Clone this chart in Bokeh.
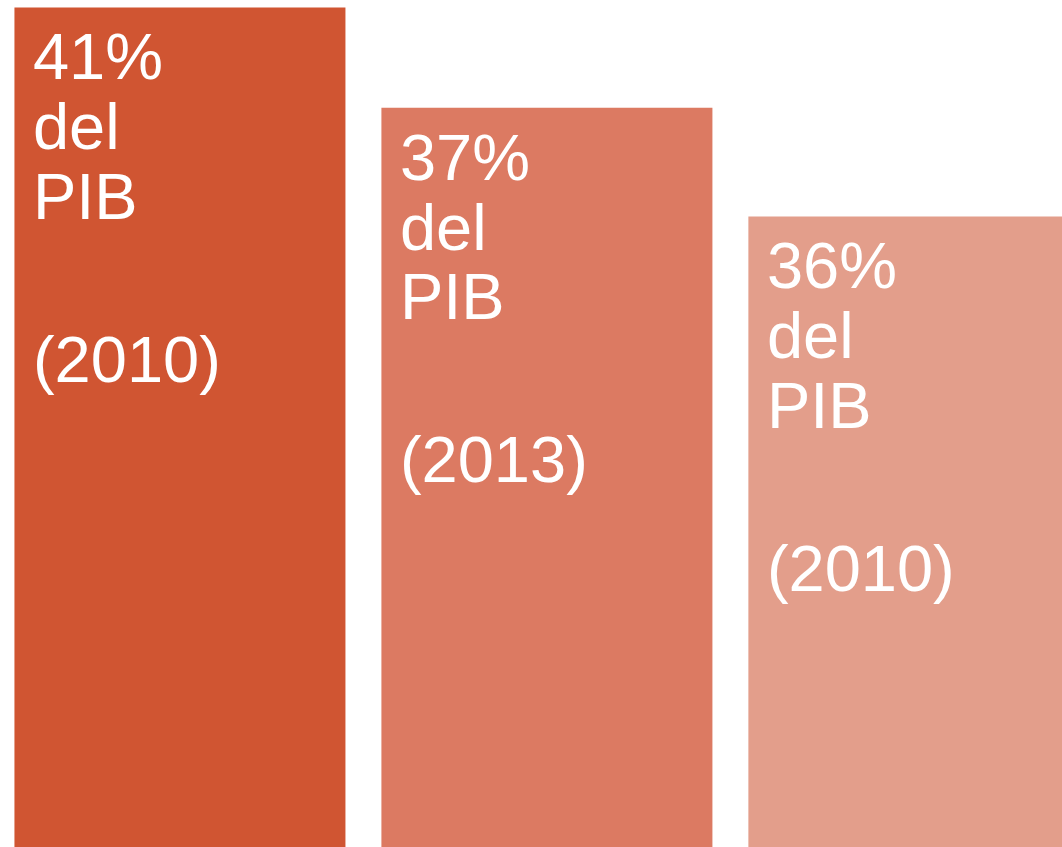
from bokeh.plotting import figure
from bokeh.models import Range1d, ColumnDataSource
from bokeh.core.properties import value
from bokeh.embed import file_html
from bokeh.resources import INLINE

# Data
categories = ["A", "B", "C"]
bar_heights = [41.0, 36.1, 30.8]          # drawn bar heights (same scale)
pct_labels = ["41%\ndel\nPIB", "37%\ndel\nPIB", "36%\ndel\nPIB"]
year_labels = ["(2010)", "(2013)", "(2010)"]
colors = ["#D05532", "#DC7A62", "#E39E8B"]

idx = list(range(len(categories)))
src = ColumnDataSource(dict(x=idx, top=bar_heights, pct=pct_labels,
                            year=year_labels, color=colors))

p = figure(width=1062, height=847, output_backend="svg", toolbar_location=None,
           x_range=Range1d(-0.489, 2.405), y_range=Range1d(0, 41.34),
           min_border=0, min_border_left=0, min_border_right=0,
           min_border_top=0, min_border_bottom=0)
p.axis.visible = False
p.grid.visible = False
p.outline_line_color = None
p.background_fill_color = "white"
p.border_fill_color = "white"

p.vbar(x="x", top="top", width=0.902, source=src, fill_color="color",
       line_color=None)

p.text(x="x", y="top", text="pct", source=src, x_offset=-147, y_offset=13,
       text_font=value("Liberation Sans"), text_font_size="65px",
       text_color="white", text_align="left", text_baseline="top",
       text_line_height=0.955)
p.text(x="x", y="top", text="year", source=src, x_offset=-147, y_offset=352,
       text_font=value("Liberation Sans"), text_font_size="65px",
       text_color="white", text_align="left", text_baseline="alphabetic")

open("out.html", "w").write(file_html(p, INLINE))
